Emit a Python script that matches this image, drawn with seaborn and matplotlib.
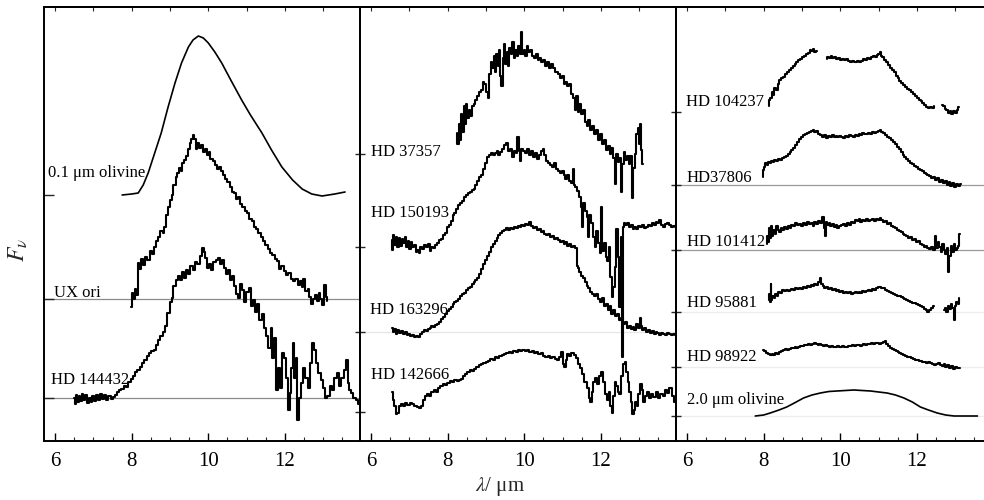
import numpy as np
import seaborn as sns
import matplotlib
matplotlib.use("Agg")
import matplotlib.pyplot as plt
from matplotlib.ticker import MultipleLocator

sns.set_theme(style="ticks")
plt.rcParams["font.family"] = ["Liberation Serif", "DejaVu Serif"]
plt.rcParams["mathtext.fontset"] = "stix"

# ---- spectra: (wavelength in um, flux above its baseline, arbitrary units) ----
# NaN marks a gap in the spectrum
olivine_01 = [(7.75, 0), (8.0, 1), (8.17, 2), (8.3, 10), (8.43, 22), (8.6, 42), (8.77, 62), (8.95, 88),
              (9.13, 112), (9.3, 132), (9.48, 148), (9.6, 155), (9.74, 159), (9.87, 157), (10.0, 152),
              (10.17, 143), (10.35, 132), (10.6, 114), (10.87, 95), (11.1, 80), (11.4, 62), (11.65, 45),
              (11.92, 28), (12.2, 15), (12.45, 6), (12.7, 1), (12.97, -1), (13.3, 1), (13.57, 3)]

ux_ori = [(7.99, -8), (8.02, 6), (8.06, 0), (8.1, 10), (8.14, 4), (8.17, 36), (8.22, 30), (8.27, 40),
          (8.32, 34), (8.38, 42), (8.43, 39), (8.5, 48), (8.55, 45), (8.6, 52), (8.66, 58), (8.72, 62),
          (8.78, 68), (8.83, 66), (8.87, 72), (8.92, 84), (8.97, 92), (9.02, 99), (9.06, 104), (9.12, 114),
          (9.17, 122), (9.21, 126), (9.26, 131), (9.3, 128), (9.35, 136), (9.4, 139), (9.45, 143),
          (9.5, 150), (9.54, 156), (9.58, 160), (9.62, 164), (9.65, 160), (9.69, 150), (9.74, 156),
          (9.78, 151), (9.83, 154), (9.88, 147), (9.93, 150), (9.98, 144), (10.03, 147), (10.08, 140),
          (10.14, 138), (10.2, 134), (10.25, 130), (10.3, 132), (10.35, 128), (10.41, 124), (10.47, 120),
          (10.53, 117), (10.58, 112), (10.64, 107), (10.7, 106), (10.75, 100), (10.8, 102), (10.86, 95),
          (10.92, 92), (10.98, 88), (11.04, 86), (11.1, 80), (11.16, 78), (11.22, 72), (11.28, 70),
          (11.34, 66), (11.4, 62), (11.46, 58), (11.52, 54), (11.58, 50), (11.64, 46), (11.7, 44),
          (11.76, 40), (11.82, 38), (11.88, 30), (11.94, 33), (12.0, 28), (12.06, 24), (12.12, 26),
          (12.18, 20), (12.24, 18), (12.3, 20), (12.36, 14), (12.42, 18), (12.46, 12), (12.5, 20),
          (12.56, 8), (12.62, 10), (12.66, 2), (12.7, -5), (12.75, 0), (12.8, 4), (12.86, -2), (12.9, 6),
          (12.95, 0), (13.0, -6), (13.04, 14), (13.08, 2), (13.1, -2)]

hd144432 = [(6.5, 0), (6.53, -6), (6.56, 3), (6.6, -4), (6.64, 2), (6.68, -3), (6.72, 4), (6.76, -2),
            (6.8, 3), (6.85, -5), (6.9, 0), (6.95, -4), (7.0, 2), (7.05, -3), (7.1, 3), (7.15, -2),
            (7.2, 4), (7.25, -1), (7.3, 3), (7.36, -2), (7.42, 2), (7.48, -1), (7.55, 1), (7.6, 3),
            (7.65, 6), (7.7, 8), (7.76, 9), (7.82, 12), (7.88, 11), (7.94, 16), (8.0, 19), (8.06, 22),
            (8.12, 26), (8.18, 28), (8.25, 31), (8.3, 35), (8.36, 38), (8.42, 42), (8.48, 45), (8.54, 47),
            (8.6, 48), (8.66, 53), (8.72, 58), (8.78, 62), (8.84, 66), (8.9, 72), (8.96, 85), (9.02, 96),
            (9.06, 100), (9.12, 112), (9.18, 118), (9.22, 122), (9.28, 118), (9.34, 126), (9.4, 120),
            (9.45, 128), (9.5, 124), (9.56, 132), (9.62, 128), (9.68, 136), (9.74, 134), (9.8, 142),
            (9.86, 150), (9.9, 146), (9.95, 140), (10.0, 130), (10.05, 134), (10.1, 128), (10.16, 136),
            (10.22, 138), (10.27, 140), (10.32, 134), (10.38, 138), (10.44, 130), (10.5, 124), (10.55, 128),
            (10.6, 118), (10.65, 122), (10.7, 112), (10.76, 104), (10.8, 100), (10.84, 114), (10.9, 108),
            (10.96, 96), (11.02, 106), (11.08, 110), (11.14, 92), (11.2, 98), (11.26, 86), (11.3, 94),
            (11.36, 78), (11.42, 84), (11.48, 70), (11.54, 62), (11.6, 50), (11.65, 70), (11.7, 40),
            (11.75, 60), (11.8, 8), (11.84, 30), (11.9, 10), (11.95, 45), (12.0, 40), (12.05, 20),
            (12.1, -12), (12.14, 5), (12.18, 30), (12.22, 55), (12.26, 20), (12.3, 40), (12.35, -22),
            (12.4, 0), (12.45, 15), (12.5, 30), (12.56, 20), (12.62, 10), (12.68, 35), (12.74, 55),
            (12.78, 48), (12.84, 35), (12.9, 25), (12.96, 18), (13.02, 10), (13.08, 0), (13.14, 2),
            (13.2, 12), (13.26, 8), (13.32, 20), (13.38, 25), (13.44, 12), (13.5, 20), (13.56, 28),
            (13.62, 38), (13.66, 15), (13.7, 8), (13.76, 5), (13.82, 0), (13.88, -2), (13.93, -6)]

hd37357 = [(8.24, 21), (8.27, 10), (8.3, 30), (8.33, 14), (8.36, 40), (8.4, 22), (8.43, 48), (8.46, 30),
           (8.5, 50), (8.53, 36), (8.57, 44), (8.6, 38), (8.65, 48), (8.7, 50), (8.75, 54), (8.8, 58),
           (8.85, 62), (8.9, 64), (8.94, 72), (8.98, 70), (9.02, 62), (9.07, 56), (9.1, 80), (9.14, 92),
           (9.18, 86), (9.22, 98), (9.25, 82), (9.28, 100), (9.32, 88), (9.35, 104), (9.38, 78),
           (9.42, 68), (9.45, 96), (9.48, 110), (9.52, 90), (9.55, 102), (9.58, 88), (9.62, 106),
           (9.66, 100), (9.7, 112), (9.74, 96), (9.78, 104), (9.82, 98), (9.86, 108), (9.9, 100),
           (9.93, 122), (9.96, 100), (10.0, 104), (10.04, 98), (10.08, 108), (10.12, 102), (10.17, 104),
           (10.22, 98), (10.27, 96), (10.32, 100), (10.37, 94), (10.42, 96), (10.47, 92), (10.52, 94),
           (10.57, 88), (10.62, 92), (10.67, 86), (10.72, 90), (10.78, 86), (10.84, 82), (10.9, 80),
           (10.95, 76), (11.0, 78), (11.05, 70), (11.1, 72), (11.15, 68), (11.2, 70), (11.25, 60),
           (11.3, 56), (11.34, 44), (11.38, 58), (11.42, 42), (11.46, 50), (11.5, 40), (11.55, 44),
           (11.6, 32), (11.65, 28), (11.7, 34), (11.75, 24), (11.8, 28), (11.86, 20), (11.9, 24),
           (11.95, 14), (12.0, 20), (12.05, 10), (12.1, 14), (12.15, 4), (12.2, 8), (12.25, 0), (12.3, 6),
           (12.34, -4), (12.38, -30), (12.42, 0), (12.46, -8), (12.5, -4), (12.54, -38), (12.58, -10),
           (12.62, 2), (12.66, -6), (12.7, -2), (12.74, -10), (12.78, -2), (12.82, -44), (12.86, -14),
           (12.9, 0), (12.94, 20), (12.97, 26), (13.0, 10), (13.04, 30), (13.07, 4), (13.1, -10)]

hd150193 = [(6.54, 7), (6.56, -3), (6.58, 12), (6.62, 2), (6.66, 10), (6.7, 0), (6.74, 9), (6.78, 1),
            (6.82, 8), (6.86, 4), (6.9, 10), (6.94, 0), (6.98, 6), (7.02, -2), (7.06, 5), (7.1, 0),
            (7.14, 2), (7.18, -5), (7.22, -3), (7.26, -6), (7.3, 0), (7.35, -2), (7.4, 2), (7.45, 0),
            (7.5, 3), (7.55, -4), (7.6, 0), (7.65, -1), (7.7, 2), (7.75, 4), (7.8, 7), (7.85, 8), (7.9, 12),
            (7.95, 14), (8.0, 20), (8.05, 22), (8.1, 26), (8.15, 32), (8.2, 34), (8.25, 38), (8.3, 42),
            (8.35, 44), (8.4, 46), (8.45, 50), (8.5, 52), (8.55, 54), (8.6, 55), (8.65, 57), (8.7, 58),
            (8.75, 62), (8.8, 66), (8.85, 70), (8.9, 72), (8.95, 78), (9.0, 84), (9.05, 90), (9.1, 92),
            (9.15, 94), (9.2, 92), (9.25, 94), (9.3, 96), (9.35, 92), (9.4, 95), (9.45, 98), (9.5, 102),
            (9.55, 104), (9.6, 96), (9.65, 98), (9.7, 90), (9.75, 96), (9.8, 94), (9.84, 110), (9.87, 96),
            (9.9, 86), (9.95, 98), (10.0, 96), (10.05, 94), (10.1, 98), (10.15, 92), (10.2, 96), (10.25, 90),
            (10.3, 94), (10.35, 88), (10.4, 92), (10.45, 96), (10.5, 98), (10.55, 92), (10.6, 86),
            (10.65, 84), (10.7, 82), (10.75, 80), (10.8, 84), (10.85, 78), (10.9, 76), (10.95, 74),
            (11.0, 76), (11.05, 72), (11.1, 68), (11.15, 72), (11.2, 66), (11.25, 64), (11.28, 78),
            (11.3, 62), (11.35, 60), (11.4, 56), (11.45, 50), (11.5, 40), (11.52, 20), (11.55, 44),
            (11.6, 36), (11.65, 30), (11.68, 10), (11.72, 32), (11.78, 24), (11.82, 10), (11.86, 0),
            (11.9, 16), (11.95, 4), (11.98, -6), (12.02, 40), (12.06, -4), (12.1, 4), (12.14, -10),
            (12.18, -14), (12.22, 0), (12.26, -30), (12.3, -50), (12.34, -40), (12.38, -20), (12.42, 18),
            (12.46, -10), (12.5, -60), (12.53, 10), (12.56, -110), (12.59, 20), (12.62, 24), (12.66, 22),
            (12.7, 24), (12.75, 20), (12.8, 22), (12.85, 18), (12.9, 20), (12.95, 18), (13.0, 21),
            (13.05, 20), (13.1, 22), (13.15, 19), (13.2, 20), (13.25, 22), (13.3, 21), (13.35, 24),
            (13.4, 22), (13.45, 25), (13.5, 24), (13.55, 27), (13.6, 22), (13.65, 20), (13.7, 23),
            (13.75, 24), (13.8, 22), (13.85, 20), (13.9, 21), (13.95, 20)]

hd163296 = [(6.54, 4), (6.58, 0), (6.62, 3), (6.66, -2), (6.7, 2), (6.75, -1), (6.8, 1), (6.85, -2),
            (6.9, 0), (6.95, -3), (7.0, -2), (7.05, -4), (7.1, -3), (7.15, -5), (7.2, -4), (7.25, -5),
            (7.3, -2), (7.35, 0), (7.4, 2), (7.45, 1), (7.5, 3), (7.55, 4), (7.6, 6), (7.65, 5), (7.7, 7),
            (7.75, 8), (7.8, 10), (7.85, 13), (7.9, 15), (7.95, 18), (8.0, 21), (8.05, 23), (8.1, 25),
            (8.15, 28), (8.2, 30), (8.25, 31), (8.3, 33), (8.35, 36), (8.4, 38), (8.45, 39), (8.5, 42),
            (8.55, 44), (8.6, 45), (8.65, 48), (8.7, 50), (8.75, 52), (8.8, 54), (8.85, 58), (8.9, 63),
            (8.95, 68), (9.0, 72), (9.05, 76), (9.1, 80), (9.15, 85), (9.2, 88), (9.25, 91), (9.3, 94),
            (9.35, 97), (9.4, 99), (9.45, 101), (9.5, 102), (9.55, 104), (9.6, 102), (9.65, 104),
            (9.7, 103), (9.75, 105), (9.8, 104), (9.85, 106), (9.9, 105), (9.95, 107), (10.0, 106),
            (10.05, 108), (10.1, 107), (10.15, 110), (10.2, 106), (10.25, 104), (10.3, 105), (10.35, 102),
            (10.4, 103), (10.45, 100), (10.5, 101), (10.55, 98), (10.6, 97), (10.65, 98), (10.7, 95),
            (10.75, 96), (10.8, 93), (10.85, 94), (10.9, 92), (10.95, 90), (11.0, 91), (11.05, 88),
            (11.1, 90), (11.15, 86), (11.2, 88), (11.25, 85), (11.3, 86), (11.35, 84), (11.38, 66),
            (11.42, 64), (11.46, 60), (11.5, 56), (11.55, 54), (11.6, 50), (11.65, 46), (11.7, 44),
            (11.75, 40), (11.8, 38), (11.85, 36), (11.9, 38), (11.95, 33), (12.0, 30), (12.05, 34),
            (12.1, 26), (12.15, 28), (12.2, 22), (12.25, 26), (12.3, 18), (12.35, 22), (12.4, 16),
            (12.45, 18), (12.5, 12), (12.55, 14), (12.6, 8), (12.65, 10), (12.7, 4), (12.75, 6), (12.8, 3),
            (12.85, 5), (12.9, 2), (12.95, 8), (13.0, 4), (13.04, 14), (13.07, 6), (13.1, 2), (13.15, 4),
            (13.2, 0), (13.25, 2), (13.3, -1), (13.35, 1), (13.4, -2), (13.45, 0), (13.5, -1), (13.55, -3),
            (13.6, -1), (13.65, -2), (13.7, -3), (13.75, -1), (13.8, -2), (13.85, -3), (13.9, -2),
            (13.95, -3)]

hd142666 = [(6.54, 20), (6.58, 12), (6.62, 6), (6.66, -2), (6.7, -1), (6.74, 6), (6.8, 8), (6.86, 6),
            (6.92, 9), (6.98, 7), (7.04, 9), (7.1, 8), (7.16, 6), (7.22, 5), (7.28, 4), (7.33, 6),
            (7.38, 12), (7.43, 16), (7.48, 18), (7.54, 16), (7.6, 20), (7.66, 22), (7.72, 20), (7.78, 24),
            (7.84, 26), (7.9, 28), (7.96, 27), (8.02, 29), (8.08, 31), (8.14, 30), (8.2, 32), (8.26, 31),
            (8.32, 32), (8.37, 33), (8.42, 36), (8.48, 38), (8.54, 40), (8.6, 42), (8.66, 41), (8.72, 43),
            (8.78, 45), (8.84, 47), (8.9, 48), (8.96, 49), (9.02, 50), (9.08, 51), (9.14, 53), (9.2, 52),
            (9.26, 55), (9.32, 54), (9.38, 56), (9.44, 57), (9.5, 58), (9.56, 59), (9.62, 60), (9.68, 59),
            (9.74, 61), (9.8, 60), (9.86, 62), (9.92, 61), (9.98, 62), (10.04, 61), (10.1, 62), (10.16, 60),
            (10.22, 61), (10.28, 59), (10.34, 60), (10.4, 58), (10.46, 59), (10.52, 56), (10.58, 55),
            (10.64, 56), (10.7, 54), (10.76, 55), (10.82, 53), (10.88, 52), (10.94, 55), (10.99, 60),
            (11.03, 48), (11.06, 45), (11.1, 52), (11.14, 58), (11.2, 56), (11.26, 59), (11.32, 57),
            (11.36, 54), (11.42, 48), (11.48, 44), (11.54, 38), (11.6, 30), (11.66, 24), (11.7, 14),
            (11.74, 10), (11.78, 20), (11.82, 30), (11.88, 34), (11.93, 28), (11.98, 36), (12.03, 40),
            (12.08, 30), (12.13, 18), (12.18, 12), (12.22, 20), (12.26, 6), (12.3, -1), (12.34, 16),
            (12.38, 30), (12.42, 26), (12.46, 20), (12.5, 18), (12.55, 36), (12.6, 48), (12.64, 50),
            (12.68, 40), (12.72, 30), (12.76, 20), (12.8, 10), (12.84, -2), (12.88, 2), (12.92, 10),
            (12.96, 6), (13.0, 18), (13.04, 28), (13.08, 22), (13.12, 10), (13.16, 16), (13.22, 20),
            (13.28, 14), (13.34, 18), (13.4, 15), (13.46, 20), (13.52, 14), (13.58, 18), (13.64, 16),
            (13.7, 22), (13.76, 19), (13.82, 24), (13.88, 16), (13.93, 10)]

hd104237 = [(8.13, 6), (8.16, 12), (8.19, 14), (8.22, 20), (8.26, 17), (8.3, 24), (8.34, 22), (8.38, 28),
            (8.43, 32), (8.48, 34), (8.53, 35), (8.58, 38), (8.63, 40), (8.68, 42), (8.73, 44), (8.78, 46),
            (8.83, 48), (8.88, 50), (8.93, 52), (8.98, 53), (9.03, 55), (9.08, 56), (9.13, 58), (9.18, 59),
            (9.22, 62), (9.26, 61), (9.3, 63), (9.35, 60), (9.39, 61), (9.4, np.nan), (9.64, 53), (9.68, 55),
            (9.72, 54), (9.77, 56), (9.82, 54), (9.87, 55), (9.92, 53), (9.97, 54), (10.02, 52), (10.07, 53),
            (10.12, 52), (10.17, 53), (10.22, 51), (10.27, 50), (10.32, 51), (10.37, 50), (10.42, 50),
            (10.47, 51), (10.52, 50), (10.57, 51), (10.62, 53), (10.67, 52), (10.72, 54), (10.77, 53),
            (10.82, 55), (10.87, 56), (10.92, 55), (10.97, 57), (11.02, 58), (11.05, 60), (11.08, 56),
            (11.12, 55), (11.17, 52), (11.22, 50), (11.27, 47), (11.32, 44), (11.37, 42), (11.42, 40),
            (11.47, 36), (11.52, 34), (11.57, 31), (11.62, 29), (11.67, 27), (11.72, 25), (11.77, 23),
            (11.82, 22), (11.87, 20), (11.92, 18), (11.97, 16), (12.02, 14), (12.07, 12), (12.12, 11),
            (12.17, 9), (12.22, 7), (12.27, 5), (12.32, 4), (12.37, 5), (12.42, 4), (12.45, 6),
            (12.46, np.nan), (12.66, 7), (12.7, 6), (12.74, 3), (12.79, 2), (12.84, -1), (12.88, 1),
            (12.92, -2), (12.97, 1), (13.02, -1), (13.06, 2), (13.1, 5)]

hd37806 = [(7.98, 8), (8.0, 15), (8.03, 18), (8.06, 22), (8.1, 20), (8.14, 23), (8.18, 22), (8.22, 24),
           (8.26, 23), (8.3, 25), (8.35, 24), (8.4, 26), (8.45, 25), (8.5, 27), (8.55, 28), (8.6, 29),
           (8.65, 31), (8.7, 33), (8.75, 35), (8.8, 37), (8.85, 40), (8.9, 43), (8.95, 46), (9.0, 48),
           (9.05, 50), (9.1, 51), (9.15, 52), (9.2, 53), (9.25, 54), (9.3, 55), (9.35, 53), (9.4, 54),
           (9.45, 51), (9.5, 50), (9.55, 48), (9.6, 50), (9.65, 47), (9.7, 49), (9.75, 48), (9.8, 50),
           (9.85, 48), (9.9, 49), (9.95, 48), (10.0, 49), (10.05, 48), (10.1, 47), (10.15, 49), (10.2, 48),
           (10.25, 50), (10.3, 49), (10.35, 48), (10.4, 50), (10.45, 49), (10.5, 51), (10.55, 50),
           (10.6, 52), (10.65, 51), (10.7, 51), (10.75, 52), (10.8, 51), (10.85, 53), (10.9, 52),
           (10.95, 53), (11.0, 54), (11.05, 55), (11.1, 53), (11.15, 52), (11.2, 50), (11.25, 48),
           (11.3, 47), (11.35, 45), (11.4, 43), (11.45, 41), (11.5, 38), (11.55, 36), (11.6, 33),
           (11.65, 30), (11.7, 28), (11.75, 26), (11.8, 24), (11.85, 22), (11.9, 21), (11.95, 19),
           (12.0, 18), (12.05, 16), (12.1, 15), (12.15, 14), (12.2, 12), (12.25, 11), (12.3, 10),
           (12.35, 9), (12.4, 7), (12.45, 8), (12.5, 5), (12.55, 7), (12.6, 3), (12.65, 5), (12.7, 2),
           (12.75, 4), (12.8, 0), (12.85, 3), (12.9, -1), (12.95, 2), (13.0, -2), (13.05, 1), (13.1, -1),
           (13.14, 1)]

hd101412 = [(8.08, 6), (8.1, 14), (8.12, 8), (8.15, 22), (8.18, 12), (8.21, 24), (8.24, 14), (8.27, 20),
            (8.3, 16), (8.34, 24), (8.38, 20), (8.42, 18), (8.46, 22), (8.5, 20), (8.55, 23), (8.6, 21),
            (8.65, 24), (8.7, 22), (8.75, 25), (8.8, 24), (8.85, 27), (8.9, 25), (8.95, 26), (9.0, 24),
            (9.05, 27), (9.1, 25), (9.15, 28), (9.2, 26), (9.25, 27), (9.3, 24), (9.35, 28), (9.4, 26),
            (9.45, 29), (9.5, 27), (9.55, 33), (9.58, 22), (9.61, 14), (9.64, 28), (9.68, 25), (9.72, 27),
            (9.76, 24), (9.8, 26), (9.85, 23), (9.9, 25), (9.95, 22), (10.0, 24), (10.05, 25), (10.1, 26),
            (10.15, 24), (10.2, 27), (10.25, 25), (10.3, 28), (10.35, 27), (10.4, 30), (10.45, 29),
            (10.5, 31), (10.55, 28), (10.6, 30), (10.65, 29), (10.7, 31), (10.75, 29), (10.8, 30),
            (10.85, 31), (10.9, 29), (10.95, 31), (11.0, 30), (11.05, 32), (11.1, 30), (11.15, 28),
            (11.2, 29), (11.25, 26), (11.3, 27), (11.35, 24), (11.4, 23), (11.45, 22), (11.5, 20),
            (11.55, 19), (11.6, 18), (11.65, 16), (11.7, 15), (11.75, 14), (11.8, 12), (11.85, 13),
            (11.9, 10), (11.95, 11), (12.0, 8), (12.05, 9), (12.1, 6), (12.15, 5), (12.2, 3), (12.25, 4),
            (12.3, 2), (12.35, 1), (12.4, 3), (12.44, 0), (12.48, 14), (12.52, 2), (12.56, 8), (12.6, 3),
            (12.64, -2), (12.68, 6), (12.72, 0), (12.76, -4), (12.8, 2), (12.83, -22), (12.86, -6),
            (12.9, 4), (12.94, -2), (12.98, 6), (13.02, 0), (13.06, 2), (13.1, 4), (13.12, 16)]

hd95881 = [(8.13, 12), (8.15, 18), (8.17, 10), (8.19, 28), (8.21, 12), (8.24, 16), (8.28, 14), (8.32, 18),
           (8.36, 16), (8.4, 20), (8.45, 19), (8.5, 22), (8.55, 21), (8.6, 22), (8.65, 21), (8.7, 22),
           (8.75, 23), (8.8, 22), (8.85, 24), (8.9, 23), (8.95, 24), (9.0, 23), (9.05, 25), (9.1, 24),
           (9.15, 26), (9.2, 25), (9.25, 27), (9.3, 26), (9.35, 28), (9.4, 27), (9.45, 30), (9.48, 34),
           (9.52, 28), (9.56, 26), (9.6, 24), (9.65, 25), (9.7, 23), (9.75, 24), (9.8, 22), (9.85, 23),
           (9.9, 21), (9.95, 22), (10.0, 20), (10.05, 21), (10.1, 19), (10.15, 20), (10.2, 19), (10.25, 20),
           (10.3, 18), (10.35, 19), (10.4, 20), (10.45, 19), (10.5, 20), (10.55, 19), (10.6, 21),
           (10.65, 20), (10.7, 21), (10.75, 22), (10.8, 21), (10.85, 23), (10.9, 22), (10.95, 24),
           (11.0, 25), (11.05, 25), (11.1, 24), (11.15, 24), (11.2, 22), (11.25, 21), (11.3, 20),
           (11.35, 19), (11.4, 18), (11.45, 17), (11.5, 16), (11.55, 16), (11.6, 15), (11.65, 14),
           (11.7, 13), (11.75, 12), (11.8, 11), (11.85, 10), (11.9, 9), (11.95, 9), (12.0, 8), (12.05, 7),
           (12.1, 6), (12.15, 5), (12.2, 3), (12.25, 2), (12.3, 0), (12.35, 2), (12.4, 4), (12.44, 6),
           (12.45, np.nan), (12.7, 2), (12.74, 4), (12.78, 0), (12.82, 6), (12.86, 3), (12.9, 8),
           (12.94, 4), (12.97, -8), (13.0, 6), (13.04, 10), (13.08, 8), (13.1, 14)]

hd98922 = [(7.98, 17), (8.03, 16), (8.08, 14), (8.13, 13), (8.18, 12), (8.23, 13), (8.28, 12), (8.33, 14),
           (8.38, 13), (8.43, 15), (8.48, 16), (8.53, 17), (8.58, 18), (8.63, 17), (8.68, 18), (8.73, 19),
           (8.78, 19), (8.83, 20), (8.88, 19), (8.93, 20), (8.98, 21), (9.03, 21), (9.08, 22), (9.13, 22),
           (9.18, 23), (9.23, 22), (9.28, 23), (9.33, 24), (9.38, 23), (9.43, 22), (9.48, 23), (9.53, 22),
           (9.58, 21), (9.63, 22), (9.68, 21), (9.73, 20), (9.78, 21), (9.83, 20), (9.88, 20), (9.93, 21),
           (9.98, 20), (10.03, 20), (10.08, 21), (10.13, 20), (10.18, 20), (10.23, 21), (10.28, 21),
           (10.33, 22), (10.38, 21), (10.43, 22), (10.48, 22), (10.53, 21), (10.58, 22), (10.63, 23),
           (10.68, 22), (10.73, 23), (10.78, 23), (10.83, 24), (10.88, 23), (10.93, 24), (10.98, 24),
           (11.03, 23), (11.08, 24), (11.13, 25), (11.18, 26), (11.22, 23), (11.27, 21), (11.32, 19),
           (11.37, 18), (11.42, 17), (11.47, 16), (11.52, 15), (11.57, 14), (11.62, 13), (11.67, 12),
           (11.72, 11), (11.77, 10), (11.82, 10), (11.87, 9), (11.92, 8), (11.97, 7), (12.02, 7),
           (12.07, 6), (12.12, 6), (12.17, 5), (12.22, 5), (12.27, 4), (12.32, 5), (12.37, 4), (12.42, 3),
           (12.47, 2), (12.52, 3), (12.57, 4), (12.62, 2), (12.67, 1), (12.72, 3), (12.77, 0), (12.82, 2),
           (12.87, -1), (12.92, 1), (12.97, -2), (13.02, 0), (13.07, -1), (13.12, -1)]

olivine_20 = [(7.78, 0), (8.0, 1), (8.17, 3), (8.4, 6), (8.6, 9), (8.8, 13), (9.04, 18), (9.26, 21),
              (9.48, 23), (9.7, 24.5), (9.91, 25), (10.13, 25.5), (10.35, 26), (10.57, 25.5), (10.79, 25),
              (11.0, 24), (11.22, 23), (11.44, 21), (11.66, 18), (11.88, 14), (12.09, 9), (12.3, 6),
              (12.53, 3), (12.75, 1), (12.97, 0), (13.3, 0), (13.58, 0)]

# ---- panel contents: name, spectrum, baseline offset, label position ----
left_names = ["0.1 \u03bcm olivine", "UX ori", "HD 144432"]
left_spectra = [olivine_01, ux_ori, hd144432]
left_offsets = [246, 142, 43]
left_label_xy = [(5.82, 268), (5.96, 148), (5.89, 61)]

mid_names = ["HD 37357", "HD 150193", "HD 163296", "HD 142666"]
mid_spectra = [hd37357, hd150193, hd163296, hd142666]
mid_offsets = [287, 194, 109, 29]
mid_label_xy = [(5.99, 289), (5.99, 228), (5.97, 131), (5.99, 66)]

right_names = ["HD 104237", "HD37806", "HD 101412", "HD 95881", "HD 98922", "2.0 \u03bcm olivine"]
right_spectra = [hd104237, hd37806, hd101412, hd95881, hd98922, olivine_20]
right_offsets = [329, 256, 191, 129, 74, 25]
right_label_xy = [(5.97, 339), (5.99, 263), (5.99, 199), (5.99, 138), (5.99, 84), (5.99, 41)]

smooth = {"0.1 \u03bcm olivine", "2.0 \u03bcm olivine"}

# baseline guide lines: (panel, offset, colour)
guide_lines = [(0, 142, "#8c8c8c"), (0, 43, "#8c8c8c"), (1, 109, "#e6e6e6"),
               (2, 256, "#9a9a9a"), (2, 191, "#9a9a9a"), (2, 129, "#ececec"),
               (2, 74, "#ececec"), (2, 25, "#ececec")]


def draw_spectrum(ax, spec, base, step):
    wl = np.array([p[0] for p in spec], dtype=float)
    fl = np.array([p[1] for p in spec], dtype=float) + base
    cuts = np.where(np.isnan(fl))[0]
    for w, f in zip(np.split(wl, cuts), np.split(fl, cuts)):
        ok = ~np.isnan(f)
        if ok.sum() < 2:
            continue
        sns.lineplot(x=w[ok], y=f[ok], ax=ax, color="black",
                     linewidth=1.5 if step else 1.2, estimator=None, sort=False,
                     drawstyle="steps-mid" if step else "default")


fig = plt.figure(figsize=(9.84, 5.0), dpi=100)
W, H = 984.0, 500.0
bottom, height = 1 - 441 / H, 434 / H
panel_px = [(44, 316), (360, 316), (676, 316)]
axes = [fig.add_axes([x0 / W, bottom, w / W, height]) for x0, w in panel_px]

panels = [(left_names, left_spectra, left_offsets, left_label_xy),
          (mid_names, mid_spectra, mid_offsets, mid_label_xy),
          (right_names, right_spectra, right_offsets, right_label_xy)]

for i, (ax, (names, spectra, offsets, label_xy)) in enumerate(zip(axes, panels)):
    for name, spec, base, (tx, ty) in zip(names, spectra, offsets, label_xy):
        draw_spectrum(ax, spec, base, name not in smooth)
        ax.text(tx, ty, name, fontsize=12, ha="left", va="center", color="black")
    for p, yb, col in guide_lines:
        if p == i:
            ax.axhline(yb, color=col, lw=0.9, zorder=0)

    ax.set_xlim(5.71, 13.96)
    ax.set_ylim(0, 434)
    ax.set_xlabel("")
    ax.set_ylabel("")
    ax.xaxis.set_major_locator(MultipleLocator(2))
    ax.xaxis.set_minor_locator(MultipleLocator(0.5))
    ax.tick_params(axis="x", which="major", direction="in", length=6, width=1,
                   labelsize=15, pad=8, colors="black")
    ax.tick_params(axis="x", which="minor", direction="in", length=3, width=0.8)
    ax.set_yticks(offsets)
    ax.set_yticklabels([])
    ax.tick_params(axis="y", direction="in" if i == 0 else "inout", length=7, width=1)
    for s in ax.spines.values():
        s.set_visible(True)
        s.set_color("black")
        s.set_linewidth(1.4)
    top = ax.secondary_xaxis("top")
    top.set_xticks(range(6, 14))
    top.tick_params(direction="in", length=3, width=0.8, labeltop=False)
    ax.patch.set_alpha(0)

fig.text(500 / W, 1 - 487 / H, "$\\lambda$/ \u03bcm", fontsize=15, ha="center", va="center")
fig.text(18 / W, 1 - 250 / H, "$F_\\nu$", fontsize=17, ha="center", va="center", rotation=90)

fig.savefig("out.png", dpi=100)
